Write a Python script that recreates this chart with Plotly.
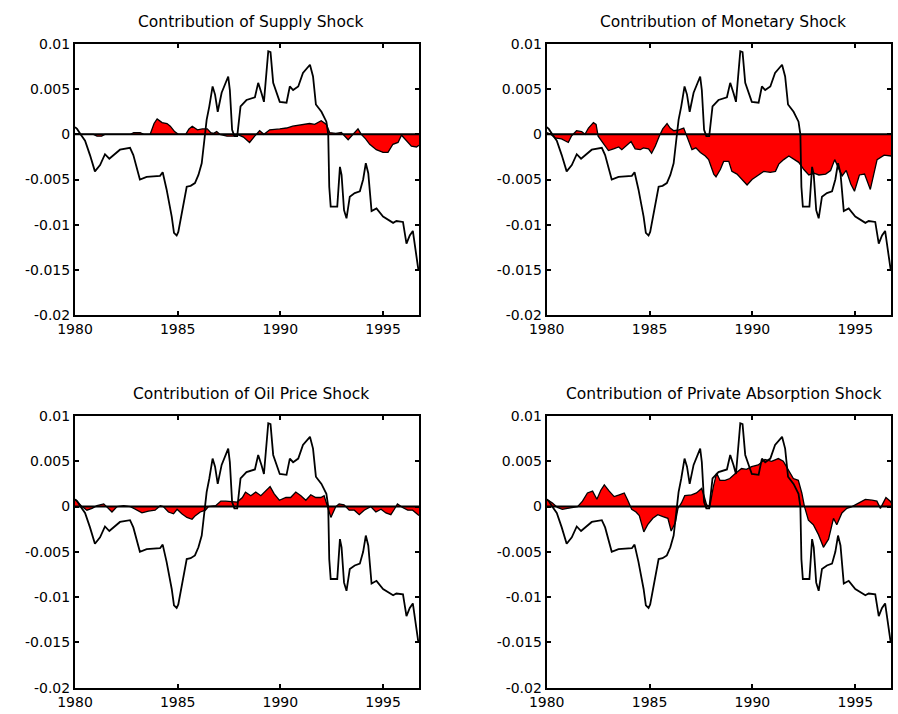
import plotly.graph_objects as go

# ---------------- data ----------------
total_x = [1980.00, 1980.10, 1980.27, 1980.49, 1980.73, 1980.97, 1981.22, 1981.46, 1981.67, 1981.87,
           1982.19, 1982.68, 1982.84, 1983.16, 1983.49, 1984.14, 1984.27, 1984.46, 1984.71, 1984.82,
           1984.95, 1985.03, 1985.24, 1985.44, 1985.63, 1985.84, 1986.01, 1986.17, 1986.30, 1986.41,
           1986.54, 1986.70, 1986.82, 1986.95, 1987.14, 1987.30, 1987.46, 1987.54, 1987.65, 1987.76,
           1987.90, 1988.06, 1988.20, 1988.35, 1988.76, 1988.92, 1989.09, 1989.20, 1989.41, 1989.52,
           1989.65, 1989.97, 1990.30, 1990.46, 1990.62, 1990.87, 1991.10, 1991.44, 1991.59, 1991.73,
           1992.00, 1992.24, 1992.33, 1992.38, 1992.45, 1992.77, 1992.90, 1992.98, 1993.10, 1993.22,
           1993.38, 1993.62, 1993.87, 1994.03, 1994.16, 1994.28, 1994.44, 1994.68, 1995.00, 1995.49,
           1995.65, 1995.97, 1996.14, 1996.30, 1996.45, 1996.58, 1996.72]
total_y = [0.0008, 0.0006, 0.0000, -0.0007, -0.0023, -0.0041, -0.0034, -0.0022, -0.0027, -0.0023,
           -0.0017, -0.0015, -0.0023, -0.0050, -0.0047, -0.0046, -0.0042, -0.0061, -0.0091, -0.0109,
           -0.0112, -0.0108, -0.0080, -0.0058, -0.0057, -0.0054, -0.0045, -0.0032, -0.0006, 0.0016,
           0.0031, 0.0053, 0.0044, 0.0025, 0.0046, 0.0056, 0.0064, 0.0049, 0.0005, -0.0002,
           -0.0002, 0.0031, 0.0035, 0.0038, 0.0041, 0.0057, 0.0045, 0.0036, 0.0092, 0.0091,
           0.0057, 0.0036, 0.0035, 0.0053, 0.0049, 0.0053, 0.0068, 0.0077, 0.0064, 0.0033,
           0.0025, 0.0014, 0.0000, -0.0058, -0.0080, -0.0080, -0.0036, -0.0045, -0.0084, -0.0093,
           -0.0069, -0.0065, -0.0063, -0.0050, -0.0032, -0.0043, -0.0085, -0.0082, -0.0091, -0.0098,
           -0.0096, -0.0097, -0.0121, -0.0112, -0.0107, -0.0130, -0.0150]

supply_x = [1980.00, 1980.90, 1981.07, 1981.30, 1981.45, 1982.70, 1982.86, 1983.17, 1983.35, 1983.66,
            1983.85, 1984.00, 1984.24, 1984.48, 1984.64, 1984.85, 1985.03, 1985.39, 1985.55, 1985.71,
            1985.96, 1986.20, 1986.44, 1986.60, 1986.75, 1986.90, 1987.05, 1987.40, 1987.70, 1987.90,
            1988.20, 1988.50, 1988.75, 1988.99, 1989.20, 1989.48, 1989.97, 1990.30, 1990.60, 1991.10,
            1991.42, 1991.67, 1991.99, 1992.24, 1992.40, 1992.70, 1992.97, 1993.30, 1993.54, 1993.78,
            1993.94, 1994.15, 1994.35, 1994.67, 1995.00, 1995.24, 1995.48, 1995.73, 1995.90, 1996.14,
            1996.38, 1996.63, 1996.75]
supply_y = [0.0000, 0.0000, -0.0002, -0.0002, 0.0000, 0.0000, 0.0002, 0.0002, 0.0000, 0.0000,
            0.0012, 0.0017, 0.0013, 0.0012, 0.0009, 0.0003, 0.0000, 0.0000, 0.0006, 0.0009,
            0.0005, 0.0006, 0.0006, 0.0002, 0.0001, 0.0003, 0.0000, -0.0002, -0.0002, 0.0000,
            -0.0003, -0.0009, -0.0002, 0.0004, 0.0000, 0.0005, 0.0006, 0.0007, 0.0009, 0.0011,
            0.0012, 0.0011, 0.0015, 0.0011, 0.0002, 0.0001, 0.0002, -0.0006, 0.0000, 0.0006,
            0.0000, -0.0005, -0.0011, -0.0017, -0.0020, -0.0020, -0.0011, -0.0009, -0.0001, -0.0007,
            -0.0013, -0.0014, -0.0012]

monetary_x = [1980.00, 1980.20, 1980.40, 1980.72, 1981.05, 1981.20, 1981.45, 1981.70, 1981.86, 1982.03,
              1982.27, 1982.40, 1982.50, 1982.70, 1983.00, 1983.25, 1983.50, 1983.65, 1983.90, 1984.10,
              1984.30, 1984.55, 1984.70, 1984.95, 1985.10, 1985.28, 1985.47, 1985.64, 1985.85, 1986.00,
              1986.18, 1986.42, 1986.66, 1986.77, 1986.90, 1987.06, 1987.25, 1987.47, 1987.71, 1987.87,
              1988.12, 1988.23, 1988.44, 1988.60, 1988.85, 1989.00, 1989.25, 1989.50, 1989.74, 1989.98,
              1990.22, 1990.55, 1990.87, 1991.12, 1991.28, 1991.52, 1991.77, 1992.01, 1992.25, 1992.50,
              1992.74, 1992.99, 1993.23, 1993.56, 1993.80, 1994.00, 1994.20, 1994.36, 1994.56, 1994.78,
              1994.96, 1995.20, 1995.45, 1995.73, 1996.06, 1996.40, 1996.75]
monetary_y = [0.0002, 0.0000, -0.0004, -0.0005, -0.0009, -0.0002, 0.0004, 0.0003, 0.0000, 0.0007,
              0.0013, 0.0011, -0.0002, -0.0009, -0.0018, -0.0016, -0.0014, -0.0017, -0.0012, -0.0008,
              -0.0016, -0.0017, -0.0015, -0.0016, -0.0021, -0.0013, -0.0002, 0.0006, 0.0012, 0.0007,
              0.0004, 0.0005, 0.0007, 0.0000, -0.0007, -0.0017, -0.0015, -0.0020, -0.0024, -0.0028,
              -0.0044, -0.0047, -0.0039, -0.0030, -0.0030, -0.0041, -0.0044, -0.0050, -0.0056, -0.0050,
              -0.0046, -0.0041, -0.0042, -0.0041, -0.0033, -0.0028, -0.0024, -0.0028, -0.0031, -0.0039,
              -0.0045, -0.0043, -0.0045, -0.0044, -0.0040, -0.0028, -0.0037, -0.0046, -0.0040, -0.0055,
              -0.0063, -0.0045, -0.0044, -0.0061, -0.0028, -0.0023, -0.0024]

oil_x = [1980.00, 1980.10, 1980.34, 1980.58, 1980.83, 1981.07, 1981.40, 1981.64, 1981.80, 1982.05,
         1982.37, 1982.70, 1983.00, 1983.26, 1983.58, 1983.90, 1984.15, 1984.30, 1984.55, 1984.80,
         1984.97, 1985.20, 1985.45, 1985.70, 1985.86, 1986.10, 1986.35, 1986.50, 1986.85, 1987.10,
         1987.34, 1987.67, 1987.90, 1988.15, 1988.30, 1988.56, 1988.80, 1989.05, 1989.30, 1989.50,
         1989.70, 1989.95, 1990.27, 1990.50, 1990.75, 1991.00, 1991.24, 1991.48, 1991.72, 1991.97,
         1992.13, 1992.30, 1992.46, 1992.70, 1992.86, 1993.10, 1993.35, 1993.60, 1993.84, 1994.08,
         1994.40, 1994.65, 1994.90, 1995.14, 1995.38, 1995.55, 1995.70, 1995.95, 1996.20, 1996.44,
         1996.68, 1996.75]
oil_y = [0.0008, 0.0006, 0.0000, -0.0004, -0.0002, 0.0001, 0.0003, -0.0003, -0.0006, 0.0000,
         0.0001, 0.0000, -0.0004, -0.0007, -0.0005, -0.0004, 0.0001, 0.0000, -0.0006, -0.0008,
         -0.0003, -0.0008, -0.0012, -0.0014, -0.0010, -0.0006, -0.0004, 0.0000, 0.0001, 0.0006,
         0.0006, 0.0005, 0.0005, 0.0010, 0.0016, 0.0012, 0.0016, 0.0012, 0.0017, 0.0022,
         0.0014, 0.0007, 0.0010, 0.0010, 0.0016, 0.0012, 0.0007, 0.0013, 0.0010, 0.0010,
         0.0012, 0.0000, -0.0012, 0.0000, 0.0003, 0.0002, -0.0004, -0.0004, -0.0009, -0.0004,
         0.0000, -0.0006, -0.0003, -0.0007, -0.0009, -0.0003, 0.0003, -0.0001, -0.0004, -0.0004,
         -0.0009, -0.0010]

absorption_x = [1980.00, 1980.28, 1980.52, 1980.76, 1981.01, 1981.25, 1981.50, 1981.74, 1981.98, 1982.23,
                1982.44, 1982.63, 1982.80, 1983.04, 1983.28, 1983.53, 1983.77, 1983.94, 1984.13, 1984.34,
                1984.50, 1984.72, 1984.91, 1985.16, 1985.40, 1985.65, 1985.89, 1986.05, 1986.25, 1986.38,
                1986.55, 1986.71, 1987.04, 1987.28, 1987.53, 1987.66, 1987.77, 1987.93, 1988.10, 1988.26,
                1988.42, 1988.67, 1988.90, 1989.14, 1989.30, 1989.47, 1989.71, 1989.96, 1990.28, 1990.61,
                1990.93, 1991.26, 1991.50, 1991.75, 1991.99, 1992.23, 1992.40, 1992.53, 1992.72, 1992.96,
                1993.21, 1993.45, 1993.70, 1993.94, 1994.10, 1994.35, 1994.59, 1994.84, 1995.16, 1995.49,
                1995.81, 1996.05, 1996.22, 1996.49, 1996.70, 1996.75]
absorption_y = [0.0008, 0.0004, -0.0001, -0.0003, -0.0002, -0.0001, 0.0000, 0.0006, 0.0015, 0.0017,
                0.0008, 0.0018, 0.0024, 0.0017, 0.0011, 0.0013, 0.0015, 0.0007, -0.0003, -0.0006,
                -0.0010, -0.0028, -0.0020, -0.0013, -0.0009, -0.0011, -0.0013, -0.0027, -0.0018, -0.0002,
                0.0004, 0.0012, 0.0013, 0.0015, 0.0020, 0.0011, 0.0002, 0.0000, 0.0022, 0.0037,
                0.0029, 0.0029, 0.0031, 0.0036, 0.0039, 0.0042, 0.0041, 0.0044, 0.0046, 0.0052,
                0.0050, 0.0053, 0.0050, 0.0041, 0.0031, 0.0029, 0.0015, 0.0000, -0.0015, -0.0020,
                -0.0031, -0.0045, -0.0036, -0.0013, -0.0020, -0.0007, -0.0002, 0.0000, 0.0004, 0.0008,
                0.0007, 0.0006, -0.0002, 0.0010, 0.0006, 0.0004]

titles = ["Contribution of Supply Shock", "Contribution of Monetary Shock",
          "Contribution of Oil Price Shock", "Contribution of Private Absorption Shock"]

ytick_vals = [0.01, 0.005, 0, -0.005, -0.01, -0.015, -0.02]
ytick_text = ["0.01", "0.005", "0", "-0.005", "-0.01", "-0.015", "-0.02"]
xtick_vals = [1980, 1985, 1990, 1995]
xtick_text = ["1980", "1985", "1990", "1995"]

# ---------------- layout ----------------
W, H = 898, 714
panels = [(75, 419, 44, 315), (546.7, 891.3, 44, 315),
          (75, 419, 416, 687.7), (546.7, 891.3, 416, 687.7)]
title_y = [22, 22, 394, 394]
contribs = [(supply_x, supply_y), (monetary_x, monetary_y),
            (oil_x, oil_y), (absorption_x, absorption_y)]

FONT = "DejaVu Sans"
fig = go.Figure()
layout = dict(width=W, height=H, margin=dict(l=0, r=0, t=0, b=0, pad=0, autoexpand=False),
              paper_bgcolor="white", plot_bgcolor="white", showlegend=False,
              template="none", shapes=[], annotations=[])

for i, ((x0, x1, y0, y1), (cx, cy)) in enumerate(zip(panels, contribs)):
    n = "" if i == 0 else str(i + 1)
    xa, ya = "x" + n, "y" + n
    fig.add_trace(go.Scatter(x=cx, y=cy, mode="lines", fill="tozeroy",
                             fillcolor="#ff0000", line=dict(color="black", width=1.3),
                             xaxis=xa, yaxis=ya, hoverinfo="skip"))
    fig.add_trace(go.Scatter(x=total_x, y=total_y, mode="lines",
                             line=dict(color="black", width=1.8),
                             xaxis=xa, yaxis=ya))
    common = dict(showline=True, linecolor="black", linewidth=2, mirror="allticks",
                  ticks="inside", ticklen=4, tickwidth=1.5, tickcolor="black",
                  showgrid=False, zeroline=False, automargin=False,
                  tickfont=dict(family=FONT, size=14, color="black"))
    layout["xaxis" + n] = dict(domain=[x0 / W, x1 / W], anchor=ya, range=[1980, 1996.75],
                               tickmode="array", tickvals=xtick_vals, ticktext=xtick_text,
                               **common)
    layout["yaxis" + n] = dict(domain=[1 - y1 / H, 1 - y0 / H], anchor=xa, range=[-0.02, 0.01],
                               tickmode="array", tickvals=ytick_vals, ticktext=ytick_text,
                               **common)
    layout["shapes"].append(dict(type="line", xref=xa + " domain", x0=0, x1=1,
                                 yref=ya, y0=0, y1=0, layer="above",
                                 line=dict(color="black", width=2)))
    layout["annotations"].append(dict(text=titles[i], xref="paper", yref="paper",
                                      x=((x0 + x1) / 2 + 4) / W, y=1 - title_y[i] / H,
                                      xanchor="center", yanchor="middle", showarrow=False,
                                      font=dict(family=FONT, size=15.5, color="black")))

fig.update_layout(**layout)
fig.write_html("out.html")
